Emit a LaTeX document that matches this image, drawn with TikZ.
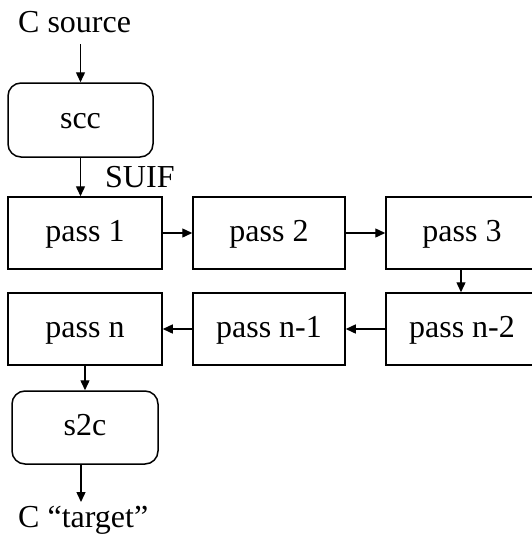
\documentclass[tikz,border=0pt]{standalone}
\usepackage{fontspec}
\setmainfont{Liberation Serif}
\usetikzlibrary{arrows.meta}
\tikzset{
  lbl/.style={font=\fontsize{32}{36}\selectfont, inner sep=0pt},
  boxtext/.style={font=\fontsize{32}{36}\selectfont, text height=21pt, text depth=5pt, inner sep=0pt},
  passbox/.style={draw, line width=1.5pt, minimum width=154pt, minimum height=72pt, boxtext},
  toolbox/.style={draw, line width=1.5pt, rounded corners=13pt, minimum height=74pt, boxtext},
  flow/.style={line width=1.4pt, -{Triangle[length=10pt,width=9pt]}}
}
\begin{document}
\begin{tikzpicture}[x=1pt,y=-1pt]
\useasboundingbox (0,0) rectangle (532,546);

% labels of input, output and intermediate form
\node[lbl, anchor=base west] (src) at (18,32) {C source};
\node[lbl, anchor=base west] (suif) at (105,187) {SUIF};
\node[lbl, anchor=base west] (tgt) at (18,527) {C “target”};

% front end and back end
\node[toolbox, minimum width=145pt] (scc) at (80.5,120) {scc};
\node[toolbox, minimum width=146pt, minimum height=73pt] (s2c) at (85,427.5) {s2c};

% the chain of passes
\node[passbox] (p1) at (85,233) {pass 1};
\node[passbox, minimum width=152pt] (p2) at (269,233) {pass 2};
\node[passbox, minimum width=152pt] (p3) at (462,233) {pass 3};
\node[passbox] (pn) at (85,329) {pass n};
\node[passbox, minimum width=152pt] (pn1) at (269,329) {pass n-1};
\node[passbox, minimum width=152pt] (pn2) at (462,329) {pass n-2};

\coordinate (srcend) at (80.5,44);
\coordinate (tgtend) at (81,502);

% connectors
\draw[flow] (srcend) -- (scc.north);
\draw[flow] (scc.south) -- (scc.south |- p1.north);
\draw[flow] (p1.east) -- (p2.west);
\draw[flow] (p2.east) -- (p3.west);
\draw[flow] ([xshift=-1pt]p3.south) -- ([xshift=-1pt]p3.south |- pn2.north);
\draw[flow] (pn2.west) -- (pn1.east);
\draw[flow] (pn1.west) -- (pn.east);
\draw[flow] (pn.south) -- (pn.south |- s2c.north);
\draw[flow] ([xshift=-4pt]s2c.south) -- (tgtend);
\end{tikzpicture}
\end{document}
